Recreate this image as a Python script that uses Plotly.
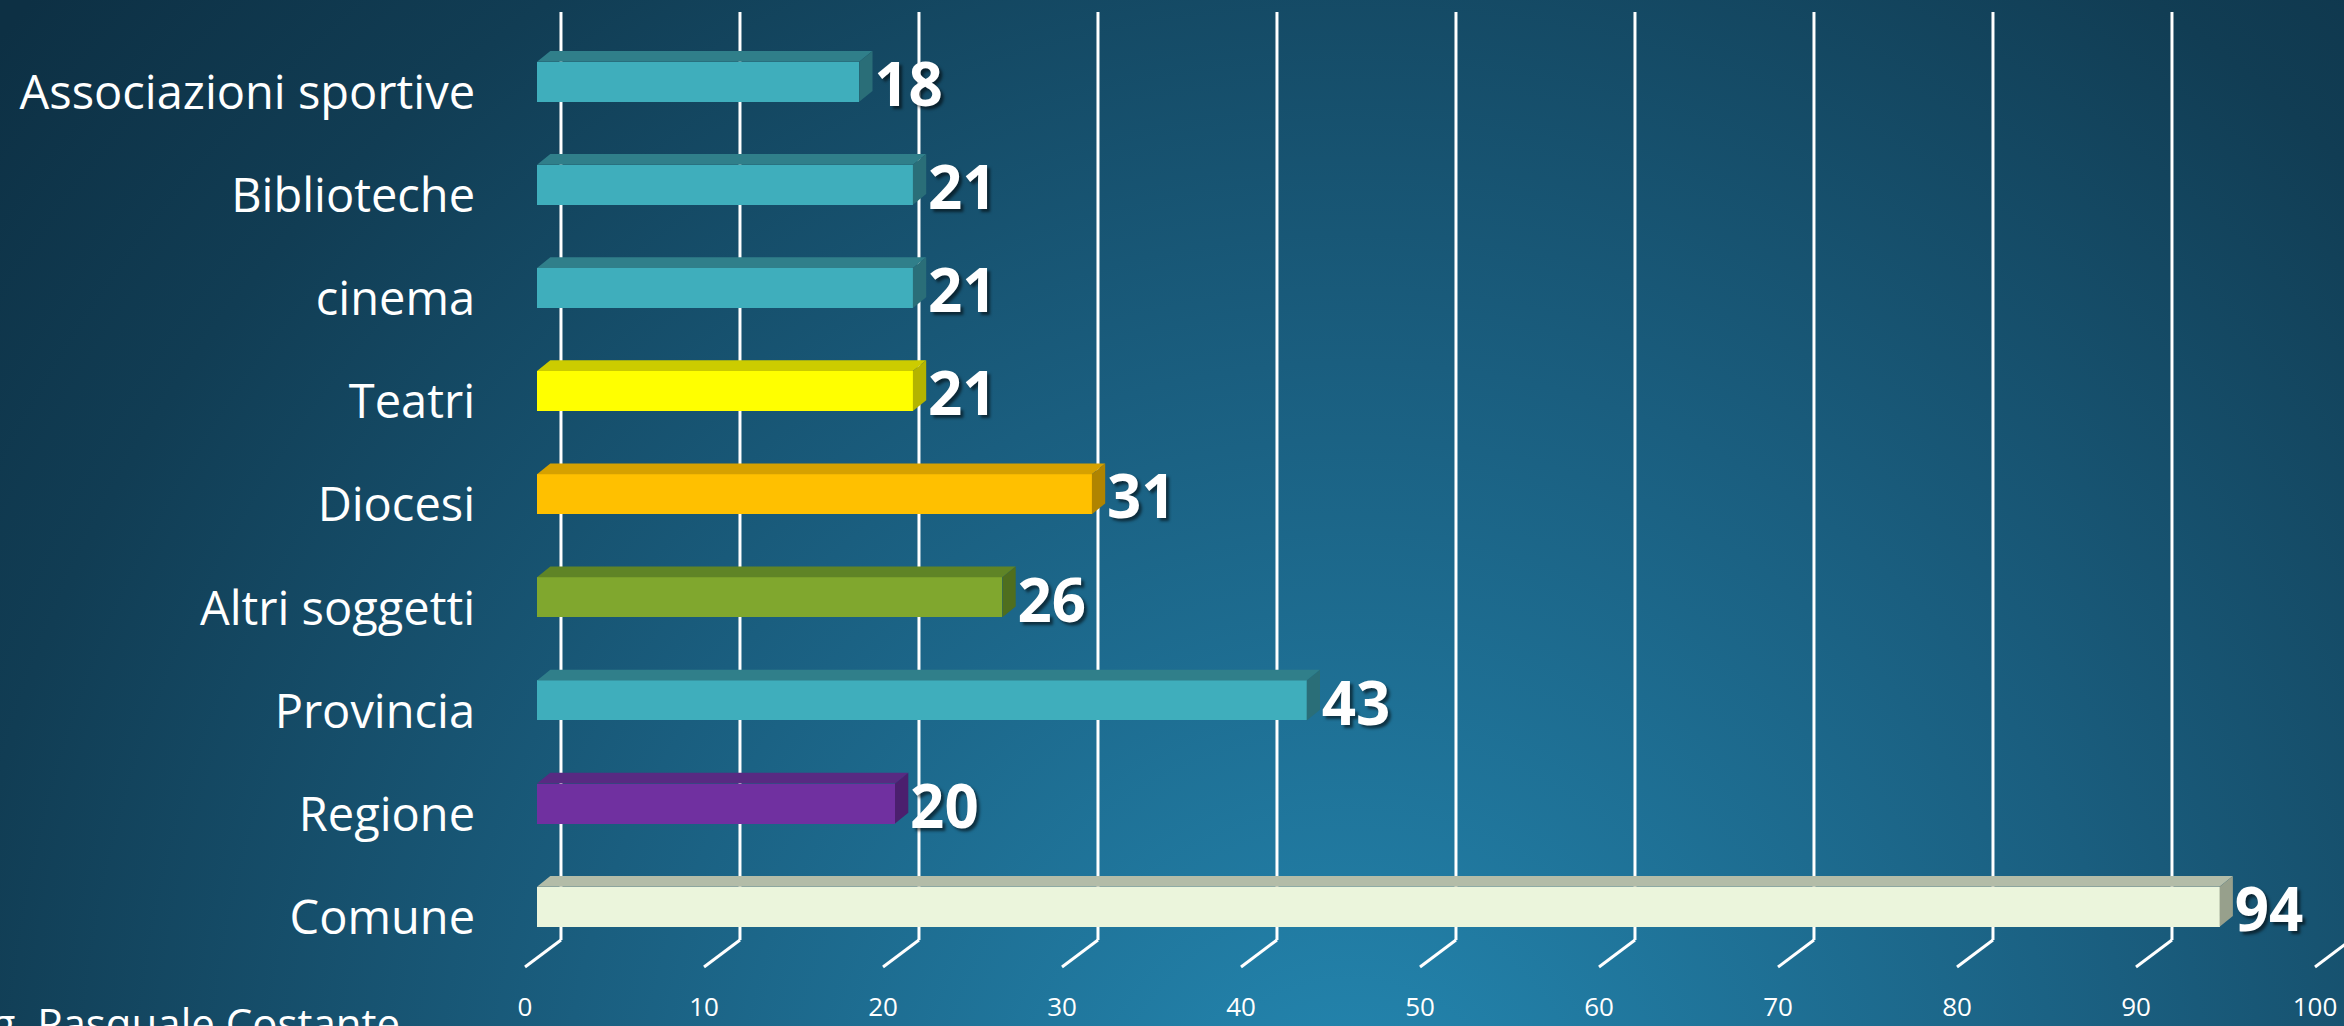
import plotly.graph_objects as go
import base64

# ---------------- data ----------------
categories = ["Comune", "Regione", "Provincia", "Altri soggetti", "Diocesi",
              "Teatri", "cinema", "Biblioteche", "Associazioni sportive"]
values = [94, 20, 43, 26, 31, 21, 21, 21, 18]
front_colors = ["#EBF5DC", "#7030A0", "#3FAEBC", "#80A72E", "#FFC000",
                "#FFFF00", "#3FAEBC", "#3FAEBC", "#3FAEBC"]
top_colors = ["#B3BCA8", "#582A82", "#307F8A", "#5F8426", "#D6A100",
              "#CCCC00", "#307F8A", "#307F8A", "#307F8A"]
side_colors = ["#97A08C", "#4B1F6E", "#2A6E78", "#4F6E1E", "#B08400",
               "#B4B400", "#2A6E78", "#2A6E78", "#2A6E78"]
tick_values = [0, 10, 20, 30, 40, 50, 60, 70, 80, 90, 100]
tick_labels = ["0", "10", "20", "30", "40", "50", "60", "70", "80", "90", "100"]
author = "Ing. Pasquale Costante"

# ---------------- geometry (style) ----------------
W, H = 2344, 1026
BAR_H = 0.388          # bar thickness in category units
DX, DY = 0.743, 0.104  # bar depth (x units, y units)
WALL = 1.34            # offset of back wall from bar front
FLOOR_DX, FLOOR_Y, DIAG_Y = -2.01, -0.323, -0.585
GRID_TOP = 8.676
TICK_Y = -1.0

ypos = list(range(len(categories)))

fig = go.Figure()

# gridlines on back wall and floor (as shapes below traces)
for v in tick_values:
    xb = v + WALL
    fig.add_shape(type="line", xref="x", yref="y", x0=xb, x1=xb, y0=GRID_TOP, y1=FLOOR_Y,
                  line=dict(color="white", width=3), layer="below")
    fig.add_shape(type="line", xref="x", yref="y", x0=xb, x1=xb + FLOOR_DX, y0=FLOOR_Y, y1=DIAG_Y,
                  line=dict(color="white", width=3), layer="below")

# front faces
fig.add_trace(go.Bar(
    x=values, y=ypos, orientation="h", width=BAR_H, base=0,
    marker=dict(color=front_colors, line=dict(width=0)),
    hoverinfo="skip", showlegend=False,
))

# top and side faces
for yc, v, tc, sc in zip(ypos, values, top_colors, side_colors):
    yt = yc + BAR_H / 2
    yb = yc - BAR_H / 2
    fig.add_trace(go.Scatter(
        x=[0, v, v + DX, DX, 0], y=[yt, yt, yt + DY, yt + DY, yt],
        fill="toself", fillcolor=tc, mode="lines", line=dict(width=0, color=tc),
        hoverinfo="skip", showlegend=False))
    fig.add_trace(go.Scatter(
        x=[v, v + DX, v + DX, v, v], y=[yb, yb + DY, yt + DY, yt, yb],
        fill="toself", fillcolor=sc, mode="lines", line=dict(width=0, color=sc),
        hoverinfo="skip", showlegend=False))

# value labels
fig.add_trace(go.Scatter(
    x=[v + DX + 0.1 for v in values], y=[y - 0.09 for y in ypos],
    mode="text", text=[str(v) for v in values], textposition="middle right",
    textfont=dict(family="Open Sans", size=60, color="white", weight="bold",
                  shadow="3px 3px 3px rgba(0,0,0,0.55)"),
    cliponaxis=False, hoverinfo="skip", showlegend=False))

# category labels
fig.add_trace(go.Scatter(
    x=[-3.46] * len(categories), y=[y - 0.15 for y in ypos],
    mode="text", text=categories, textposition="middle left",
    textfont=dict(family="Open Sans", size=47, color="white"),
    cliponaxis=False, hoverinfo="skip", showlegend=False))

# floor tick labels
fig.add_trace(go.Scatter(
    x=[v + WALL + FLOOR_DX for v in tick_values], y=[TICK_Y] * len(tick_values),
    mode="text", text=tick_labels, textposition="middle center",
    textfont=dict(family="Open Sans", size=26, color="white"),
    cliponaxis=False, hoverinfo="skip", showlegend=False))

# background gradient
svg = f'''<svg xmlns="http://www.w3.org/2000/svg" width="{W}" height="{H}" viewBox="0 0 {W} {H}">
<defs><radialGradient id="g" gradientUnits="userSpaceOnUse" cx="1350" cy="1150" r="1750">
<stop offset="0" stop-color="#2488B2"/>
<stop offset="0.45" stop-color="#1A5E7F"/>
<stop offset="0.8" stop-color="#113D54"/>
<stop offset="1" stop-color="#0D3044"/>
</radialGradient></defs>
<rect width="{W}" height="{H}" fill="url(#g)"/></svg>'''
src = "data:image/svg+xml;base64," + base64.b64encode(svg.encode()).decode()

fig.update_layout(
    width=W, height=H,
    margin=dict(l=0, r=0, t=0, b=0),
    paper_bgcolor="#123F57", plot_bgcolor="rgba(0,0,0,0)",
    images=[dict(source=src, xref="paper", yref="paper", x=0, y=1, sizex=1, sizey=1,
                 xanchor="left", yanchor="top", sizing="stretch", layer="below")],
    xaxis=dict(range=[-30.0, 100.95], visible=False, fixedrange=True),
    yaxis=dict(range=[-1.157, 8.792], visible=False, fixedrange=True),
    bargap=0,
    annotations=[dict(text=author, xref="paper", yref="paper", x=402 / W, y=1 - 992 / H,
                      xanchor="right", yanchor="top", showarrow=False,
                      font=dict(family="Open Sans", size=42, color="white"))],
)

fig.write_html("out.html", config={"displayModeBar": False},
               post_script="document.body.style.margin='0';document.body.style.overflow='hidden';")
